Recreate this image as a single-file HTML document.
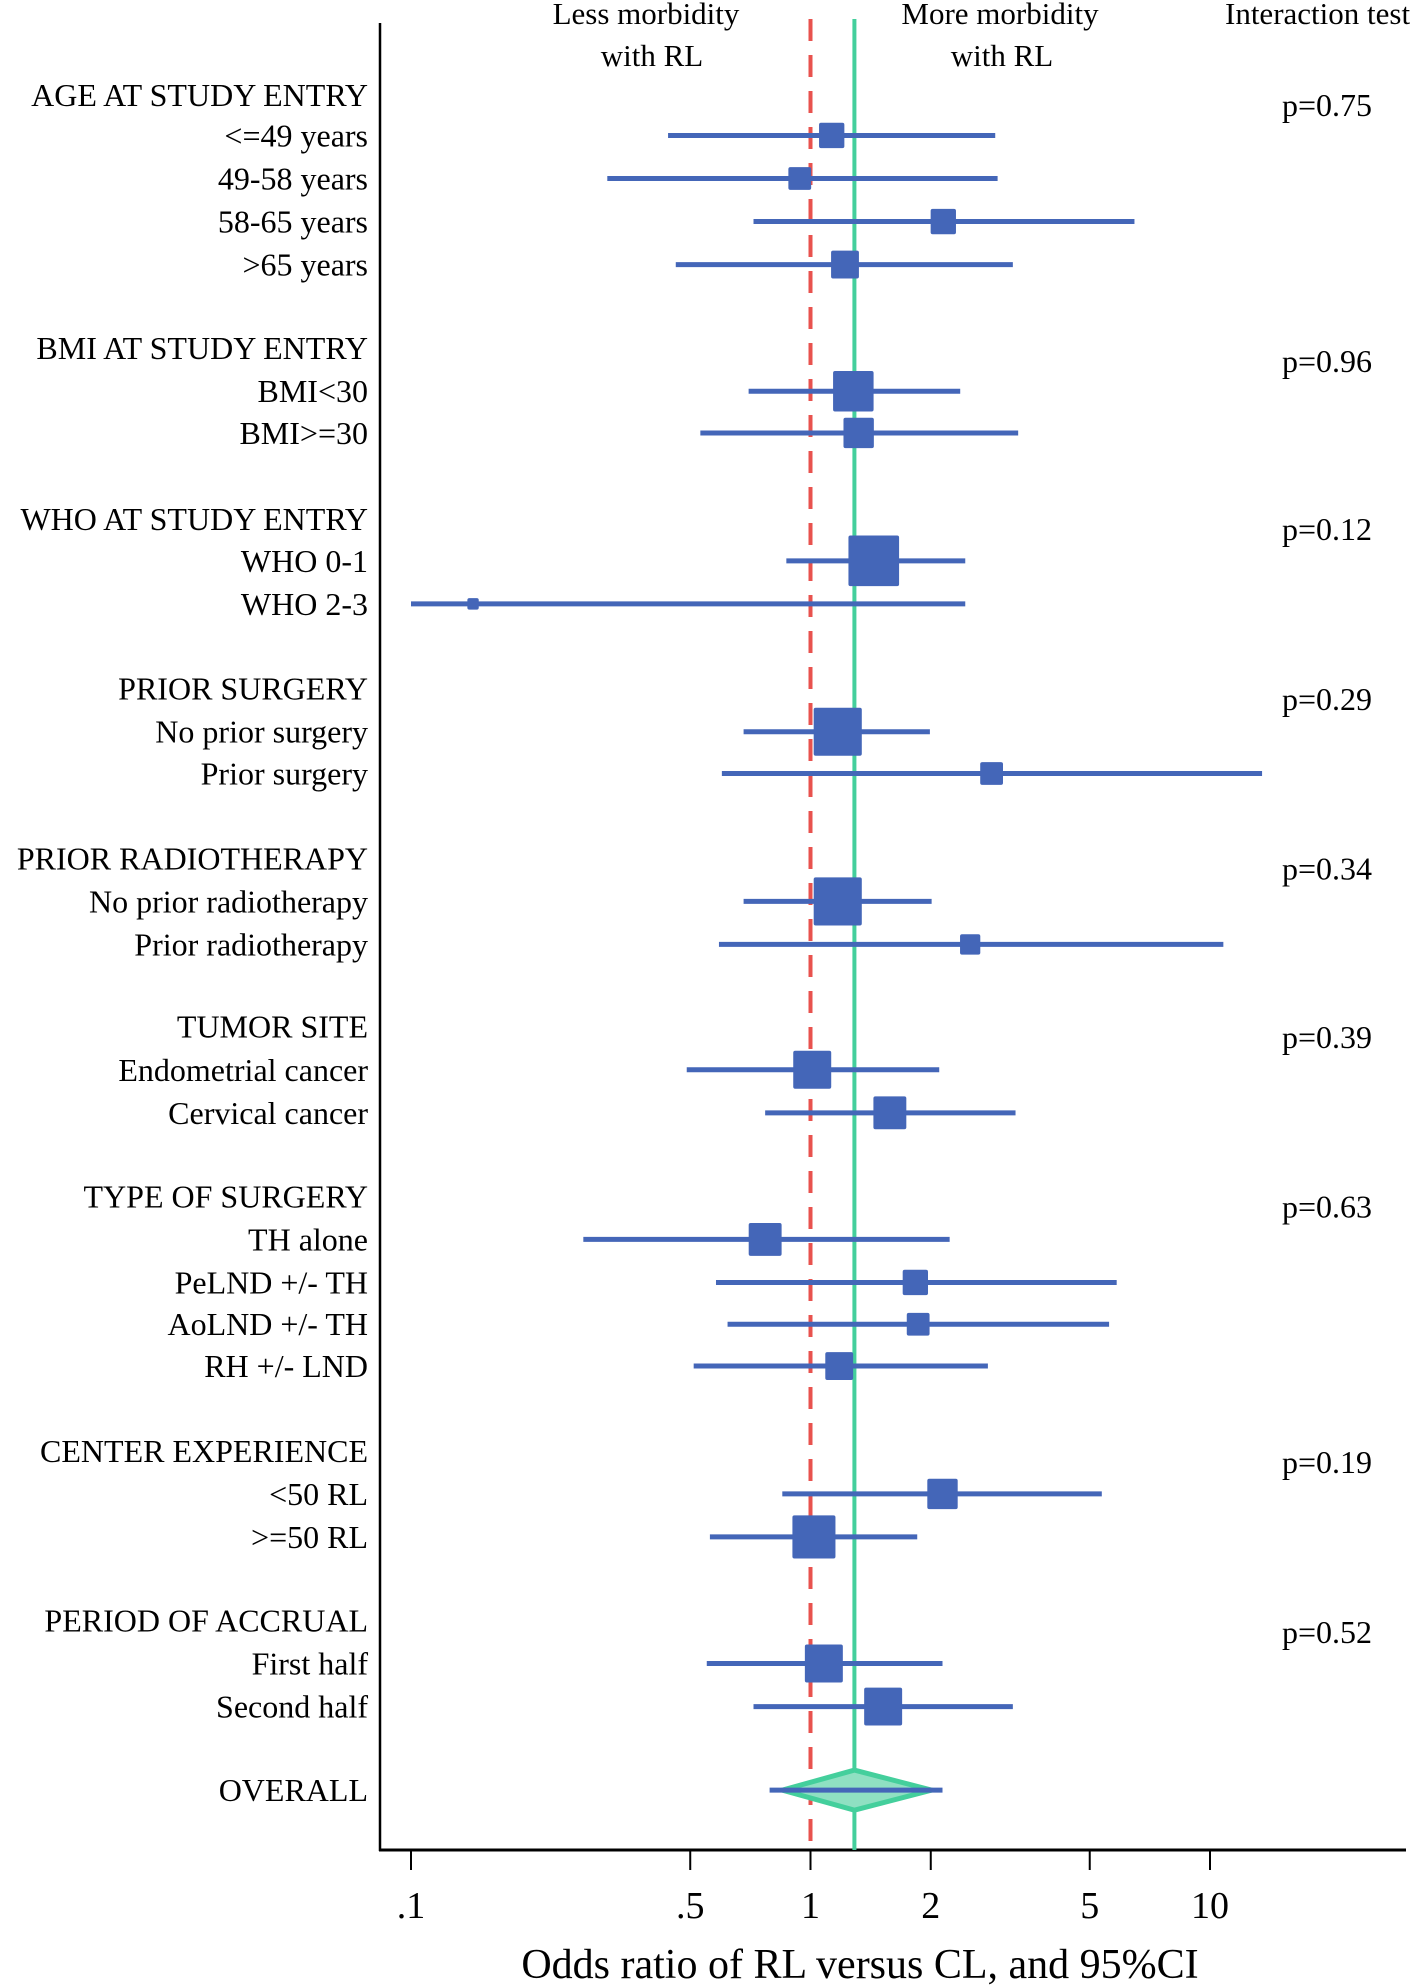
<!DOCTYPE html>
<html><head><meta charset="utf-8"><style>
html,body{margin:0;padding:0;background:#fff;}
svg{display:block;font-family:"Liberation Serif",serif;}
</style></head><body>
<svg id="chart" width="1418" height="1985" viewBox="0 0 1418 1985" xmlns="http://www.w3.org/2000/svg">
<g id="axes"></g>
<g id="marks"></g>
<g id="labels"></g>
</svg>
<script>
const labels = ["AGE AT STUDY ENTRY","<=49 years","49-58 years","58-65 years",">65 years",
"BMI AT STUDY ENTRY","BMI<30","BMI>=30",
"WHO AT STUDY ENTRY","WHO 0-1","WHO 2-3",
"PRIOR SURGERY","No prior surgery","Prior surgery",
"PRIOR RADIOTHERAPY","No prior radiotherapy","Prior radiotherapy",
"TUMOR SITE","Endometrial cancer","Cervical cancer",
"TYPE OF SURGERY","TH alone","PeLND +/- TH","AoLND +/- TH","RH +/- LND",
"CENTER EXPERIENCE","<50 RL",">=50 RL",
"PERIOD OF ACCRUAL","First half","Second half","OVERALL"];
const rowY = [75,107,141,175,209,275,309,342,410,443,477,544,578,611,678,712,746,811,845,879,945,979,1013,1046,1079,1146,1180,1214,1280,1314,1348,1414];
const estimates = [null,1.13,0.94,2.15,1.22,null,1.28,1.32,null,1.44,0.143,null,1.17,2.84,null,1.17,2.51,null,1.01,1.58,null,0.77,1.83,1.86,1.18,null,2.14,1.02,null,1.08,1.52,1.29];
const lower = [null,0.44,0.31,0.72,0.46,null,0.70,0.53,null,0.87,0.10,null,0.68,0.60,null,0.68,0.59,null,0.49,0.77,null,0.27,0.58,0.62,0.51,null,0.85,0.56,null,0.55,0.72,0.79];
const upper = [null,2.90,2.94,6.47,3.21,null,2.37,3.31,null,2.44,2.44,null,1.99,13.5,null,2.01,10.8,null,2.10,3.26,null,2.23,5.84,5.59,2.78,null,5.36,1.85,null,2.14,3.21,2.14];
const weights = [null,20,18,20,22,null,32,24,null,40,9,null,38,18,null,38,16,null,30,26,null,26,20,18,22,null,24,34,null,30,30,null];
const pvalues = ["p=0.75","p=0.96","p=0.12","p=0.29","p=0.34","p=0.39","p=0.63","p=0.19","p=0.52"];
const pY = [83,285,418,552,686,819,953,1155,1289];
const tickVals = [0.1,0.5,1,2,5,10];
const tickLabels = [".1",".5","1","2","5","10"];
const overallOR = 1.288;
const diamondLo = 0.85, diamondHi = 2.01;

const S = 1.266;
const NS = "http://www.w3.org/2000/svg";
function xs(v){ return 411 + 399.5*Math.log10(v/0.1); }
function ys(d){ return d*S; }
function mk(tag, attrs, parent){ const e=document.createElementNS(NS,tag); for(const k in attrs) e.setAttribute(k,attrs[k]); parent.appendChild(e); return e; }
const axes=document.getElementById('axes'), marks=document.getElementById('marks'), lab=document.getElementById('labels');

let e;
e=mk('line',{x1:380,y1:23,x2:380,y2:1851,stroke:'#000','stroke-width':2.5},axes);
 
e=mk('line',{x1:379,y1:1850,x2:1406,y2:1850,stroke:'#000','stroke-width':3},axes);
 
tickVals.forEach((v,i)=>{
  const t=mk('line',{x1:xs(v),y1:1850,x2:xs(v),y2:1870,stroke:'#000','stroke-width':2},axes);
   
  const tl=mk('text',{x:xs(v),y:1918,'font-size':38,'text-anchor':'middle'},axes);
  tl.textContent=tickLabels[i];
   
});
e=mk('text',{x:860,y:1978,'font-size':42,'text-anchor':'middle'},axes);
e.textContent="Odds ratio of RL versus CL, and 95%CI";
 

e=mk('line',{x1:xs(1),y1:19,x2:xs(1),y2:1850,stroke:'#e8524e','stroke-width':4,'stroke-dasharray':'22 14'},marks);
 
e=mk('line',{x1:xs(overallOR),y1:19,x2:xs(overallOR),y2:1850,stroke:'#44cf9c','stroke-width':4},marks);
 

[["Less morbidity",646,24],["with RL",652,66],["More morbidity",1000,24],["with RL",1002,66]].forEach(h=>{
  const t=mk('text',{x:h[1],y:h[2],'font-size':31,'text-anchor':'middle'},lab);
  t.textContent=h[0];  
});
e=mk('text',{x:1225,y:24,'font-size':31},lab); e.textContent="Interaction test";
 

labels.forEach((l,i)=>{
  const t=mk('text',{x:368,y:ys(rowY[i])+11,'font-size':32,'text-anchor':'end'},lab);
  t.textContent=l;  
  if(lower[i]==null) return;
  const y=ys(rowY[i]);
  if(i===labels.length-1){
    const d=mk('polygon',{points:`${xs(diamondLo)},${y} ${xs(overallOR)},${y-20} ${xs(diamondHi)},${y} ${xs(overallOR)},${y+20}`,fill:'#8fe0c2',stroke:'#44cf9c','stroke-width':5},marks);
     
  }
  const ci=mk('line',{x1:xs(lower[i]),y1:y,x2:xs(upper[i]),y2:y,stroke:'#4466b8','stroke-width':5},marks);
   
  if(weights[i]!=null){
    const s=weights[i]*S;
    const r=mk('rect',{x:xs(estimates[i])-s/2,y:y-s/2,width:s,height:s,fill:'#4466b8',rx:2},marks);
     
  }
});
pvalues.forEach((p,i)=>{
  const t=mk('text',{x:1282,y:ys(pY[i])+11,'font-size':32},lab);
  t.textContent=p;  
});
</script>
</body></html>
